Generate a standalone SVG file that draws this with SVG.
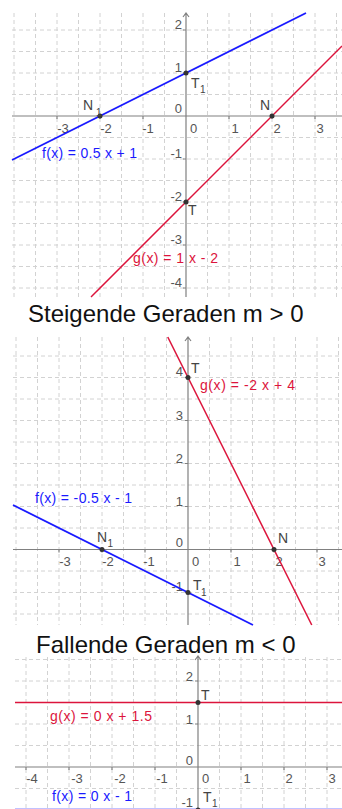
<svg xmlns="http://www.w3.org/2000/svg" width="342" height="809" viewBox="0 0 342 809">
<style>
.grid{stroke:#d2d2d2;stroke-width:1;stroke-dasharray:4 3;fill:none}
.axis{stroke:#808080;stroke-width:1.2;fill:none}
.blue{stroke:#1a1aff;stroke-width:1.8;fill:none}
.red{stroke:#dc143c;stroke-width:1.5;fill:none}
.lab{font-family:"Liberation Sans",Arial,sans-serif;font-size:13px;fill:#555}
.pl{font-family:"Liberation Sans",Arial,sans-serif;font-size:14px;fill:#444}
.sub{font-family:"Liberation Sans",Arial,sans-serif;font-size:10px;fill:#444}
.fb{font-family:"Liberation Sans",Arial,sans-serif;font-size:14px;fill:#1a1aff}
.fr{font-family:"Liberation Sans",Arial,sans-serif;font-size:14px;fill:#dc143c}
.cap{font-family:"Liberation Sans",Arial,sans-serif;font-size:24px;fill:#111}
.pt{fill:#333}
</style>
<rect width="342" height="809" fill="#fff"/>

<g id="graph1">
<path class="grid" d="M14 13V297M35.5 13V297M57 13V297M78.5 13V297M100 13V297M121.5 13V297M143 13V297M164.5 13V297M207.5 13V297M229 13V297M250.5 13V297M272 13V297M293.5 13V297M315 13V297M336.5 13V297"/>
<path class="grid" d="M12 30H342M12 51.5H342M12 73H342M12 94.5H342M12 137.5H342M12 159H342M12 180.5H342M12 202H342M12 223.5H342M12 245H342M12 266.5H342M12 288H342"/>
<path class="axis" d="M12 116H342M186 13V297M183 17L186 13L189 17"/>
<path class="axis" d="M57 116v3M100 116v3M143 116v3M229 116v3M272 116v3M315 116v3M186 30h-3M186 73h-3M186 159h-3M186 202h-3M186 245h-3M186 288h-3"/>
<g class="lab" text-anchor="middle">
<text x="63" y="133">-3</text><text x="106" y="133">-2</text><text x="148" y="133">-1</text><text x="193.5" y="133">0</text><text x="235" y="133">1</text><text x="277" y="133">2</text><text x="320" y="133">3</text>
</g>
<g class="lab" text-anchor="end">
<text x="182" y="29">2</text><text x="182" y="72">1</text><text x="182" y="113">0</text><text x="182" y="158">-1</text><text x="182" y="201">-2</text><text x="182" y="244">-3</text><text x="182" y="287">-4</text>
</g>
<path class="blue" d="M12 160L306 13"/>
<path class="red" d="M91 297L342 46"/>
<circle class="pt" cx="100" cy="116" r="2.5"/><circle class="pt" cx="186" cy="73" r="2.5"/><circle class="pt" cx="272" cy="116" r="2.5"/><circle class="pt" cx="186" cy="202" r="2.5"/>
<text class="pl" x="83" y="110">N</text><text class="sub" x="96" y="116">1</text>
<text class="pl" x="191" y="87.5">T</text><text class="sub" x="200" y="93">1</text>
<text class="pl" x="260" y="110">N</text>
<text class="pl" x="188" y="215">T</text>
<text class="fb" x="42" y="158" textLength="95" lengthAdjust="spacing">f(x) = 0.5 x + 1</text>
<text class="fr" x="133" y="262.5" textLength="85" lengthAdjust="spacing">g(x) = 1 x - 2</text>
</g>
<text id="caption1" class="cap" x="28" y="321.5">Steigende Geraden m &gt; 0</text>

<g id="graph2">
<path class="grid" d="M16 337V625M37.5 337V625M59 337V625M80.5 337V625M102 337V625M123.5 337V625M145 337V625M166.5 337V625M209.5 337V625M231 337V625M252.5 337V625M274 337V625M295.5 337V625M317 337V625M338.5 337V625"/>
<path class="grid" d="M13 356H342M13 377.5H342M13 399H342M13 420.5H342M13 442H342M13 463.5H342M13 485H342M13 506.5H342M13 528H342M13 571H342M13 592.5H342M13 614H342"/>
<path class="axis" d="M13 549.5H342M188 337V625M185 341L188 337L191 341"/>
<path class="axis" d="M59 549.5v3M102 549.5v3M145 549.5v3M231 549.5v3M274 549.5v3M317 549.5v3M188 377.5h-3M188 420.5h-3M188 463.5h-3M188 506.5h-3M188 592.5h-3"/>
<g class="lab" text-anchor="middle">
<text x="65" y="566">-3</text><text x="108" y="566">-2</text><text x="149" y="566">-1</text><text x="195.5" y="566">0</text><text x="237" y="566">1</text><text x="279" y="566">2</text><text x="322" y="566">3</text>
</g>
<g class="lab" text-anchor="end">
<text x="183" y="376">4</text><text x="183" y="419.5">3</text><text x="183" y="462.5">2</text><text x="183" y="505.5">1</text><text x="183" y="547">0</text><text x="183" y="591">-1</text>
</g>
<path class="blue" d="M13 505L253 625"/>
<path class="red" d="M167.75 337L311.75 625"/>
<circle class="pt" cx="188" cy="377.5" r="2.5"/><circle class="pt" cx="102" cy="549.5" r="2.5"/><circle class="pt" cx="274" cy="549.5" r="2.5"/><circle class="pt" cx="188" cy="592.5" r="2.5"/>
<text class="pl" x="191" y="373">T</text>
<text class="pl" x="97" y="542">N</text><text class="sub" x="107.5" y="547">1</text>
<text class="pl" x="278" y="543">N</text>
<text class="pl" x="193" y="590">T</text><text class="sub" x="201" y="595.5">1</text>
<text class="fr" x="200" y="390" textLength="95" lengthAdjust="spacing">g(x) = -2 x + 4</text>
<text class="fb" x="35" y="502.5" textLength="97" lengthAdjust="spacing">f(x) = -0.5 x - 1</text>
</g>
<text id="caption2" class="cap" x="36" y="653">Fallende Geraden m &lt; 0</text>

<g id="graph3">
<path class="grid" d="M26 657V809M47.5 657V809M69 657V809M90.5 657V809M112 657V809M133.5 657V809M155 657V809M176.5 657V809M219.5 657V809M241 657V809M262.5 657V809M284 657V809M305.5 657V809M327 657V809"/>
<path class="grid" d="M15 659.5H342M15 681H342M15 724H342M15 745.5H342M15 788.5H342"/>
<path class="axis" d="M15 767H342M198 656V809M195 660L198 656L201 660"/>
<path class="axis" d="M26 767v3M69 767v3M112 767v3M155 767v3M241 767v3M284 767v3M327 767v3M198 681h-3M198 724h-3M198 810h-3"/>
<g class="lab" text-anchor="middle">
<text x="32" y="783">-4</text><text x="77" y="783">-3</text><text x="120" y="783">-2</text><text x="162" y="783">-1</text><text x="205.5" y="783">0</text><text x="247" y="783">1</text><text x="289" y="783">2</text><text x="332" y="783">3</text>
</g>
<g class="lab" text-anchor="end">
<text x="193" y="681">2</text><text x="193" y="724">1</text><text x="193" y="765">0</text><text x="193" y="807">-1</text>
</g>
<path class="red" d="M15 702.5H342"/>
<path d="M15 808.6H342" stroke="#1a1aff" stroke-width="1" stroke-opacity="0.3"/>
<circle class="pt" cx="198" cy="702.5" r="2.5"/><circle class="pt" cx="198" cy="810" r="2.5"/>
<text class="pl" x="203" y="802">T</text><text class="sub" x="212" y="807">1</text>
<text class="pl" x="201" y="700">T</text>
<text class="fr" x="50" y="721" textLength="102" lengthAdjust="spacing">g(x) = 0 x + 1.5</text>
<text class="fb" x="52" y="801" textLength="80" lengthAdjust="spacing">f(x) = 0 x - 1</text>
</g>
</svg>
